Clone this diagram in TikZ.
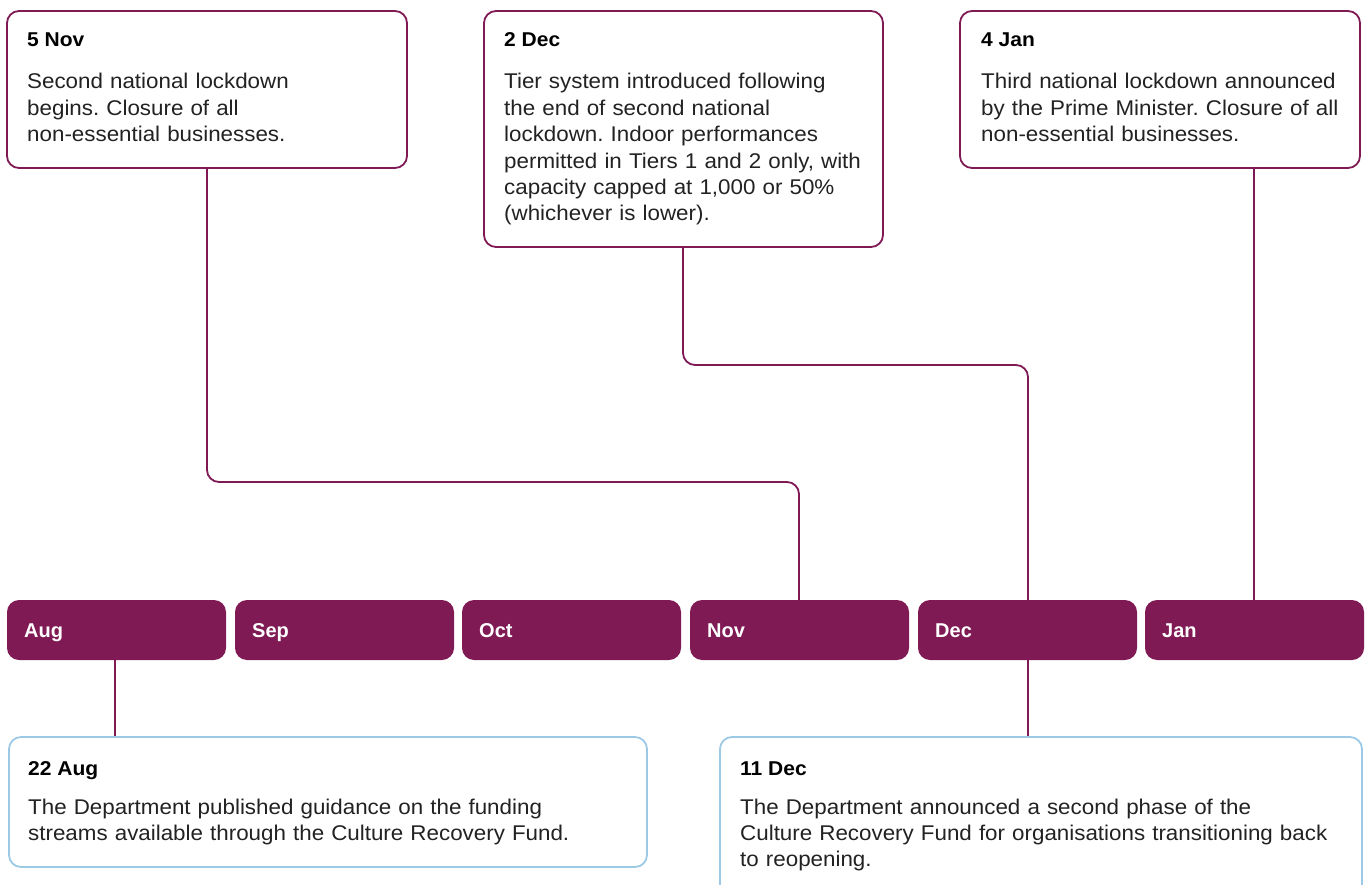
\documentclass[tikz,border=0pt]{standalone}
\usepackage{fontspec}
\setmainfont{Liberation Sans}
\newfontfamily\widesans[FakeStretch=1.05]{Liberation Sans}
\definecolor{plum}{HTML}{7F1A54}
\definecolor{skyline}{HTML}{9CCAE6}
\definecolor{bodytext}{HTML}{222222}
\frenchspacing
\begin{document}
\begin{tikzpicture}[x=1pt,y=-1pt,
  evbox/.style={draw=plum,line width=1.8pt,rounded corners=12pt,fill=white},
  fundbox/.style={draw=skyline,line width=1.8pt,rounded corners=12pt,fill=white},
  monthbox/.style={fill=plum,rounded corners=12pt},
  titletext/.style={anchor=base west,inner sep=0pt,font=\widesans\fontsize{20}{26.4}\selectfont\bfseries,text=black},
  bodytxt/.style={anchor=base west,inner sep=0pt,align=left,text width=620pt,font=\widesans\fontsize{21.3}{26.4}\selectfont\frenchspacing,text=bodytext},
  monthtext/.style={anchor=base west,inner sep=0pt,font=\fontsize{20}{22}\selectfont\bfseries,text=white},
  link/.style={draw=plum,line width=1.8pt,rounded corners=12pt}]
\useasboundingbox (0,0) rectangle (1370,885);
\begin{scope}
\clip (0,0) rectangle (1370,885);
% month bars
\foreach \n/\x/\lab in {aug/7/Aug,sep/235/Sep,oct/462/Oct,nov/690/Nov,dec/918/Dec,jan/1145/Jan}{
  \path[monthbox] (\x,600) rectangle ++(219,60);
  \node[monthtext] (\n) at (\x+17,637) {\lab};
}
\coordinate (novtop) at (799,600);
\coordinate (dectop) at (1028,600);
\coordinate (jantop) at (1254,600);
\coordinate (augbot) at (115,660);
\coordinate (decbot) at (1028,660);
% connectors
\coordinate (novout) at (207,168);
\coordinate (decout) at (683,247);
\coordinate (janout) at (1254,168);
\coordinate (augin) at (115,737);
\coordinate (decin) at (1028,737);
\draw[link] (novout) |- (799,482) -- (novtop);
\draw[link] (decout) |- (1028,365) -- (dectop);
\draw[link] (janout) -- (jantop);
\draw[link] (augbot) -- (augin);
\draw[link] (decbot) -- (decin);
% top boxes
\draw[evbox] (7,11) rectangle (407,168);
\node[titletext] (t1) at (27,47) {5 Nov};
\node[bodytxt] (b1) at (27,89) {Second national lockdown\\begins. Closure of all\\non-essential businesses.};
\draw[evbox] (484,11) rectangle (883,247);
\node[titletext] (t2) at (504,47) {2 Dec};
\node[bodytxt] (b2) at (504,89) {Tier system introduced following\\the end of second national\\lockdown. Indoor performances\\permitted in Tiers 1 and 2 only, with\\capacity capped at 1,000 or 50\%\\(whichever is lower).};
\draw[evbox] (960,11) rectangle (1360,168);
\node[titletext] (t3) at (981,47) {4 Jan};
\node[bodytxt] (b3) at (981,89) {Third national lockdown announced\\by the Prime Minister. Closure of all\\non-essential businesses.};
% bottom boxes
\draw[fundbox] (9,737) rectangle (647,867);
\node[titletext] (t4) at (28,775) {22 Aug};
\node[bodytxt] (b4) at (28,814) {The Department published guidance on the funding\\streams available through the Culture Recovery Fund.};
\draw[fundbox] (720,737) rectangle (1362,905);
\node[titletext] (t5) at (740,775) {11 Dec};
\node[bodytxt] (b5) at (740,814) {The Department announced a second phase of the\\Culture Recovery Fund for organisations transitioning back\\to reopening.};
\end{scope}
\end{tikzpicture}
\end{document}
